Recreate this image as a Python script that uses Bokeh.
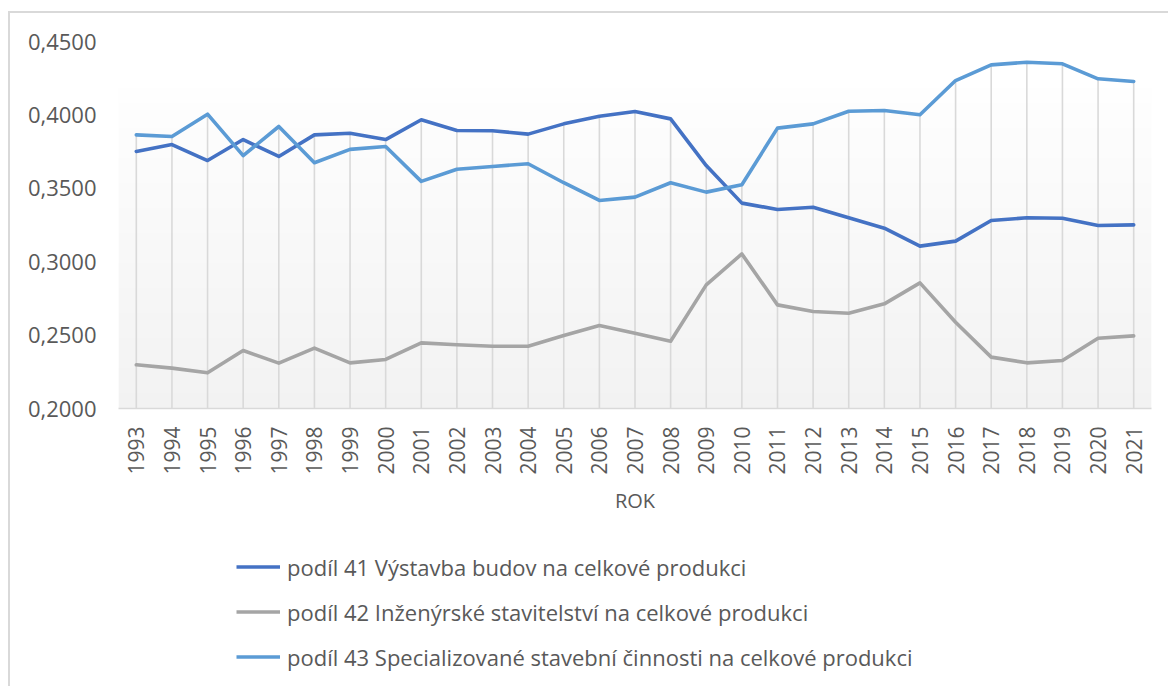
import numpy as np
from bokeh.plotting import figure
from bokeh.layouts import column
from bokeh.models import FixedTicker, CustomJSTickFormatter, Legend, LegendItem
from bokeh.embed import file_html
from bokeh.resources import INLINE

years = list(range(1993, 2022))
year_labels = [str(y) for y in years]

share_41 = [0.3751, 0.3798, 0.3689, 0.3832, 0.3717, 0.3864, 0.3875, 0.3832,
            0.3967, 0.3894, 0.3892, 0.3869, 0.3939, 0.3991, 0.4023, 0.3973,
            0.3655, 0.3399, 0.3356, 0.3371, 0.3299, 0.3228, 0.3106, 0.3140,
            0.3281, 0.3299, 0.3296, 0.3247, 0.3251]
share_42 = [0.2298, 0.2275, 0.2243, 0.2395, 0.2309, 0.2411, 0.2311, 0.2334,
            0.2447, 0.2434, 0.2424, 0.2424, 0.2497, 0.2565, 0.2513, 0.2458,
            0.2842, 0.3053, 0.2706, 0.2661, 0.2649, 0.2713, 0.2856, 0.2588,
            0.2350, 0.2311, 0.2327, 0.2479, 0.2495]
share_43 = [0.3864, 0.3853, 0.4005, 0.3723, 0.3921, 0.3674, 0.3765, 0.3785,
            0.3547, 0.3630, 0.3649, 0.3667, 0.3538, 0.3417, 0.3440, 0.3538,
            0.3474, 0.3524, 0.3910, 0.3939, 0.4025, 0.4030, 0.4001, 0.4234,
            0.4341, 0.4359, 0.4348, 0.4246, 0.4228]

series_names = [
    "podíl 41 Výstavba budov na celkové produkci",
    "podíl 42 Inženýrské stavitelství na celkové produkci",
    "podíl 43 Specializované stavební činnosti na celkové produkci",
]
series_colors = ["#4472C4", "#A5A5A5", "#5B9BD5"]
y_ticks = [0.20, 0.25, 0.30, 0.35, 0.40, 0.45]
x_title = "ROK"

FONT = "Open Sans"
TXT = "#595959"
Y0, Y1 = 0.20, 0.45
W = 1168
all_series = [share_41, share_42, share_43]

p = figure(width=W, height=520, output_backend="svg", toolbar_location=None,
           x_range=(years[0] - 0.5, years[-1] + 0.5), y_range=(Y0, Y1),
           min_border_left=118, min_border_right=17, min_border_top=41,
           min_border_bottom=112)
p.outline_line_color = None
p.background_fill_color = "white"
p.border_fill_color = None
p.xgrid.visible = False
p.ygrid.visible = False

# gradient plot-area fill (white -> light gray)
grad_top = 0.418
n = 64
img = np.empty((n, 1), dtype=np.uint32)
view = img.view(dtype=np.uint8).reshape((n, 1, 4))
for i in range(n):
    t = i / (n - 1)  # 0 bottom, 1 top
    c = int(round(242 + (254 - 242) * t))
    view[i, 0, :] = [c, c, c, 255]
p.image_rgba(image=[img], x=years[0] - 0.5, y=Y0, dw=len(years), dh=grad_top - Y0)

# drop lines from max value to axis
tops = [max(v) for v in zip(*all_series)]
p.segment(x0=years, y0=[Y0] * len(years), x1=years, y1=tops,
          line_color="#d9d9d9", line_width=1.6)

for vals, col in zip(all_series, series_colors):
    p.line(years, vals, line_color=col, line_width=3.6, line_join="round",
           line_cap="round")

# axes
p.yaxis.ticker = FixedTicker(ticks=y_ticks)
p.yaxis.formatter = CustomJSTickFormatter(code="return tick.toFixed(4).replace('.', ',');")
p.yaxis.axis_line_color = None
p.yaxis.major_tick_line_color = None
p.yaxis.minor_tick_line_color = None
p.yaxis.major_label_standoff = 16
p.yaxis.major_label_text_font = FONT
p.yaxis.major_label_text_font_size = "22px"
p.yaxis.major_label_text_color = TXT

p.xaxis.ticker = FixedTicker(ticks=years)
p.xaxis.major_label_overrides = {y: s for y, s in zip(years, year_labels)}
p.xaxis.major_label_orientation = np.pi / 2
p.xaxis.axis_line_color = "#d9d9d9"
p.xaxis.axis_line_width = 1.6
p.xaxis.major_tick_line_color = None
p.xaxis.minor_tick_line_color = None
p.xaxis.major_label_standoff = 12
p.xaxis.major_label_text_font = FONT
p.xaxis.major_label_text_font_size = "21px"
p.xaxis.major_label_text_color = TXT
p.xaxis.axis_label = x_title
p.xaxis.axis_label_text_font = FONT
p.xaxis.axis_label_text_font_size = "20px"
p.xaxis.axis_label_text_font_style = "normal"
p.xaxis.axis_label_text_color = TXT
p.xaxis.axis_label_standoff = 9

# legend figure (below main chart); its lines lie outside its ranges,
# they only provide the legend swatches
p2 = figure(width=W, height=166, output_backend="svg", toolbar_location=None,
            x_range=(0, 1), y_range=(0, 1), min_border=0)
p2.outline_line_color = None
p2.background_fill_color = None
p2.border_fill_color = None
p2.axis.visible = False
p2.grid.visible = False
leg_renderers = [p2.line(x=years, y=vals, line_color=col, line_width=3.6)
                 for vals, col in zip(all_series, series_colors)]

legend = Legend(items=[LegendItem(label=n_, renderers=[r]) for n_, r in zip(series_names, leg_renderers)],
                location=(118, 14), orientation="vertical",
                padding=0, margin=0, spacing=14,
                glyph_width=44, glyph_height=31, label_height=31, label_standoff=7,
                label_text_font=FONT, label_text_font_size="22px",
                label_text_color=TXT, border_line_color=None,
                background_fill_alpha=0)
p2.add_layout(legend, "center")

layout = column(p, p2, spacing=0)
layout.styles = {"box-shadow": ("inset 0 11px 0 white, inset 8px 0 0 white, "
                                "inset 10px 0 0 #d9d9d9, inset 0 13px 0 #d9d9d9")}

open("out.html", "w").write(file_html(layout, INLINE))
